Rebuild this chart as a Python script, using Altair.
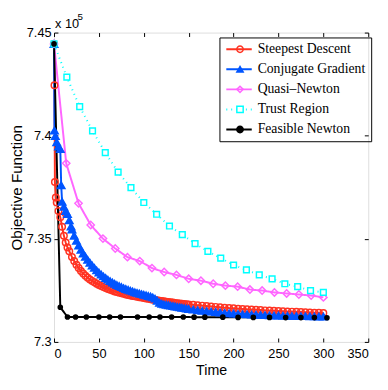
import altair as alt
import pandas as pd

# ---------------- data (values in units of 1e5) -------------
series_names = ["Steepest Descent", "Conjugate Gradient", "Quasi\u2013Newton", "Trust Region", "Feasible Newton"]

t_sd = [0, 0.5, 1, 2, 3, 5, 7, 9, 11, 13, 15, 17,
        20, 22.5, 25, 27.5, 30, 32.5, 35, 37.5, 40, 42.5, 45, 47.5, 50, 52.5, 55, 57.5, 60,
        62.5, 65, 67.5, 70, 72.5, 75, 77.5, 80, 82.5, 85, 87.5, 90, 92.5, 95, 97.5, 100,
        102.5, 105, 107.5, 110, 112.5, 115, 117.5, 120, 122.5, 125, 127.5, 130, 132.5, 135,
        137.5, 140, 142.5, 145, 147.5, 150,
        155, 160, 165, 170, 175, 180, 185, 190, 195, 200, 205, 210, 215, 220, 225, 230, 235,
        240, 245, 250, 255, 260, 265, 270, 275, 280, 285, 290, 295, 300]
f_sd = [7.4445, 7.4245, 7.3775, 7.3700, 7.3676, 7.3635, 7.3605, 7.3558, 7.3515, 7.3482, 7.3458,
        7.3440,
        7.3412, 7.3392, 7.3374, 7.3358, 7.3344, 7.3332, 7.3321, 7.3311, 7.3303, 7.3296, 7.3289,
        7.3282, 7.3276, 7.3271, 7.3266, 7.3261, 7.3257, 7.3253, 7.3249, 7.3245, 7.3242, 7.3239,
        7.3236, 7.3233, 7.3230, 7.3228, 7.3225, 7.3223, 7.3221, 7.3219, 7.3217, 7.3215, 7.3213,
        7.3211, 7.3209, 7.3207, 7.3205, 7.3203, 7.3202, 7.3200, 7.3198, 7.3197, 7.3195, 7.3194,
        7.3192, 7.3191, 7.3189, 7.3188, 7.3187, 7.3185, 7.3184, 7.3183, 7.3182,
        7.3180, 7.3178, 7.3176, 7.3174, 7.3172, 7.3170, 7.3168, 7.3166, 7.3164, 7.3163, 7.3161,
        7.3160, 7.3158, 7.3157, 7.3156, 7.3155, 7.3153, 7.3152, 7.3151, 7.3150, 7.3149, 7.3148,
        7.3147, 7.3146, 7.3145, 7.3144, 7.3143, 7.3142, 7.3141, 7.3140]

t_cg = [0, 0.5, 1.5, 3, 5, 7, 8, 9, 11, 13, 15, 17, 19,
        20, 22.5, 25, 27.5, 30, 32.5, 35, 37.5, 40, 42.5, 45, 47.5, 50, 52.5, 55, 57.5, 60,
        62.5, 65, 67.5, 70, 72.5, 75, 77.5, 80, 82.5, 85, 87.5, 90, 92.5, 95, 97.5, 100,
        102.5, 105, 107.5, 110, 112.5, 115, 117.5, 120, 122.5, 125, 127.5, 130, 132.5, 135,
        137.5, 140, 142.5, 145, 147.5, 150,
        155, 160, 165, 170, 175, 180, 185, 190, 195, 200, 205, 210, 215, 220, 225, 230, 235,
        240, 245, 250, 255, 260, 265, 270, 275, 280, 285, 290, 295, 300]
f_cg = [7.4445, 7.4025, 7.3998, 7.3968, 7.3948, 7.3935, 7.3760, 7.3680, 7.3655, 7.3635, 7.3620,
        7.3590, 7.3560,
        7.3545, 7.3515, 7.3490, 7.3467, 7.3447, 7.3429, 7.3413, 7.3398, 7.3384, 7.3371, 7.3359,
        7.3347, 7.3337, 7.3327, 7.3318, 7.3310, 7.3302, 7.3295, 7.3288, 7.3282, 7.3276, 7.3271,
        7.3266, 7.3261, 7.3257, 7.3253, 7.3249, 7.3245, 7.3241, 7.3238, 7.3235, 7.3232, 7.3229,
        7.3226, 7.3223, 7.3220, 7.3216, 7.3210, 7.3200, 7.3190, 7.3185, 7.3182, 7.3180, 7.3178,
        7.3176, 7.3174, 7.3172, 7.3170, 7.3168, 7.3166, 7.3164, 7.3162, 7.3160,
        7.3157, 7.3154, 7.3151, 7.3149, 7.3147, 7.3145, 7.3143, 7.3141, 7.3139, 7.3138, 7.3136,
        7.3135, 7.3134, 7.3133, 7.3132, 7.3131, 7.3130, 7.3129, 7.3128, 7.3128, 7.3127, 7.3127,
        7.3126, 7.3126, 7.3125, 7.3125, 7.3124, 7.3124, 7.3123, 7.3123]

t_qn = [0, 13.6, 27.3, 40.9, 54.5, 68.2, 81.8, 95.5, 109.1, 122.7, 136.4, 150, 163.6, 177.3,
        190.9, 204.5, 218.2, 231.8, 245.5, 259.1, 272.7, 286.4, 300]
f_qn = [7.4445, 7.3866, 7.3672, 7.3567, 7.3501, 7.3453, 7.3411, 7.3392, 7.3358, 7.3339, 7.3325,
        7.3306, 7.3297, 7.3282, 7.3273, 7.3268, 7.3254, 7.3249, 7.3240, 7.3235, 7.3230, 7.3225,
        7.3216]

t_tr = [0, 14.3, 28.6, 42.9, 57.1, 71.4, 85.7, 100, 114.3, 128.6, 142.9, 157.1, 171.4, 185.7,
        200, 214.3, 228.6, 242.9, 257.1, 271.4, 285.7, 300]
f_tr = [7.4445, 7.4284, 7.4141, 7.4023, 7.3918, 7.3823, 7.3748, 7.3676, 7.3619, 7.3562, 7.3520,
        7.3477, 7.3439, 7.3406, 7.3373, 7.3349, 7.3325, 7.3306, 7.3282, 7.3268, 7.3249, 7.3240]

t_fn = [0, 7, 15, 24, 36, 50, 62, 74, 93, 106, 118, 131, 144, 156, 168, 188, 205, 222, 240, 258,
        275, 290, 304]
f_fn = [7.4445, 7.3168, 7.3121, 7.3121, 7.3121, 7.3121, 7.3121, 7.3121, 7.3121, 7.3121, 7.3121,
        7.3121, 7.3121, 7.3120, 7.3120, 7.3120, 7.3119, 7.3119, 7.3119, 7.3118, 7.3118, 7.3118,
        7.3117]

x_ticks = [0, 50, 100, 150, 200, 250, 300, 350]
y_ticks = [7.3, 7.35, 7.4, 7.45]

colors = ["#ff3322", "#0055ff", "#ff66ff", "#00ffff", "#000000"]
dashes = [[1, 0], [1, 0], [1, 0], [1, 4], [1, 0]]
shapes = ["circle", "triangle-up", "diamond", "square", "circle"]
fills = ["transparent", "#0055ff", "transparent", "white", "#000000"]

# ---------------- table ----------------
rows = []
for name, ts, fs in zip(series_names,
                        [t_sd, t_cg, t_qn, t_tr, t_fn],
                        [f_sd, f_cg, f_qn, f_tr, f_fn]):
    for t, f in zip(ts, fs):
        rows.append({"series": name, "t": t, "f": f})
df = pd.DataFrame(rows)

W, H = 321, 316
x_scale = alt.Scale(domain=[0, 350], nice=False)
y_scale = alt.Scale(domain=[7.3, 7.45], nice=False, zero=False)
FONT = "Liberation Sans"
SERIF = "Liberation Serif, Times New Roman, serif"

leg_common = dict(orient="none", title=None, labelFont=SERIF, labelFontSize=14,
                  labelColor="black", rowPadding=6.5, padding=5, legendY=5)
legend_lines = alt.Legend(legendX=169, symbolType="M-1,0H4.2", symbolSize=100,
                          symbolStrokeWidth=2, labelOffset=20, strokeColor="black",
                          **leg_common)
legend_pts = alt.Legend(legendX=178, symbolSize=42, symbolStrokeWidth=1.5, labelOpacity=0,
                        **leg_common)

lines = alt.Chart(df).mark_line(strokeWidth=2).encode(
    x=alt.X("t:Q", scale=x_scale,
            axis=alt.Axis(orient="bottom", values=x_ticks, ticks=False, domain=False, grid=False,
                          labelPadding=6, labelFont=FONT, labelFontSize=13, labelColor="black",
                          title="Time", titleFont=FONT, titleFontSize=14.5,
                          titleFontWeight="normal", titleColor="black", titlePadding=3)),
    y=alt.Y("f:Q", scale=y_scale,
            axis=alt.Axis(orient="left", values=y_ticks, format=".2~f", ticks=False, domain=False,
                          grid=False, labelPadding=3, labelFont=FONT, labelFontSize=13,
                          labelColor="black", title="Objective Function", titleFont=FONT,
                          titleFontSize=15.5, titleFontWeight="normal", titleColor="black",
                          titlePadding=2)),
    color=alt.Color("series:N", scale=alt.Scale(domain=series_names, range=colors),
                    legend=legend_lines),
    strokeDash=alt.StrokeDash("series:N", scale=alt.Scale(domain=series_names, range=dashes),
                              legend=legend_lines),
)

names2 = [n + " " for n in series_names]
size_expr = ("datum.series == 'Steepest Descent' ? 44 : datum.series == 'Conjugate Gradient' ? 58"
             " : datum.series == 'Feasible Newton' ? 18 : datum.series == 'Trust Region' ? 34 : 56")
points = alt.Chart(df).transform_calculate(
    series2="datum.series + ' '", msize=size_expr
).mark_point(opacity=1, strokeWidth=1.5).encode(
    x=alt.X("t:Q", scale=x_scale,
            axis=alt.Axis(orient="top", offset=-H, values=x_ticks, labels=False, tickSize=4,
                          tickColor="black", domain=False, grid=False, title=None)),
    y=alt.Y("f:Q", scale=y_scale,
            axis=alt.Axis(orient="right", offset=-W, values=y_ticks, labels=False, tickSize=4,
                          tickColor="black", domain=False, grid=False, title=None)),
    shape=alt.Shape("series2:N", scale=alt.Scale(domain=names2, range=shapes), legend=legend_pts),
    stroke=alt.Stroke("series2:N", scale=alt.Scale(domain=names2, range=colors), legend=legend_pts),
    fill=alt.Fill("series2:N", scale=alt.Scale(domain=names2, range=fills), legend=legend_pts),
    size=alt.Size("msize:Q", scale=None),
)

ghost = alt.Chart(df).mark_line(strokeOpacity=0).encode(
    x=alt.X("t:Q", scale=x_scale,
            axis=alt.Axis(orient="bottom", offset=-H, values=x_ticks, labels=False, tickSize=4,
                          tickColor="black", domain=False, grid=False, title=None)),
    y=alt.Y("f:Q", scale=y_scale,
            axis=alt.Axis(orient="left", offset=-W, values=y_ticks, labels=False, tickSize=4,
                          tickColor="black", domain=False, grid=False, title=None)),
    detail="series:N",
)

exp_base = alt.Chart(pd.DataFrame({"label": ["x 10"]})).mark_text(
    align="left", baseline="alphabetic", font=FONT, fontSize=13, color="black"
).encode(text="label:N", x=alt.value(1), y=alt.value(-5))
exp_sup = alt.Chart(pd.DataFrame({"label": ["5"]})).mark_text(
    align="left", baseline="alphabetic", font=FONT, fontSize=10, color="black"
).encode(text="label:N", x=alt.value(24), y=alt.value(-13))

chart = alt.layer(lines, points, ghost, exp_base, exp_sup).resolve_axis(
    x="independent", y="independent"
).properties(
    width=W, height=H,
    autosize=alt.AutoSizeParams(type="none"),
    padding={"left": 47, "top": 21, "right": 12, "bottom": 45},
).configure_view(stroke="black", strokeWidth=1.2).configure(background="white")

chart.save("out.html", embed_options={"renderer": "svg", "actions": False})
